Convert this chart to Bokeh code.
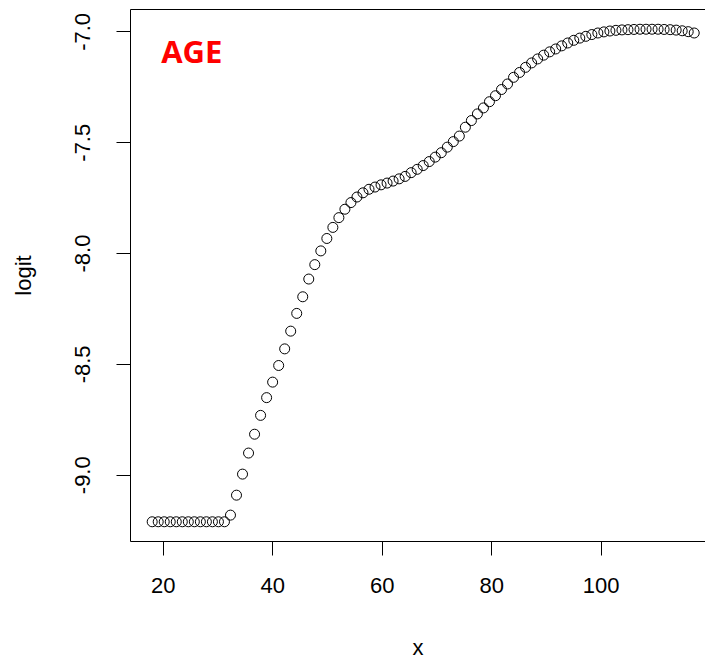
from bokeh.plotting import figure
from bokeh.models import (Range1d, FixedTicker, PrintfTickFormatter, LinearAxis,
                          Label)
from bokeh.embed import file_html
from bokeh.resources import INLINE

# ---- data ----
x_vals = [18.0, 19.1, 20.2, 21.3, 22.4, 23.5, 24.6, 25.7, 26.8, 27.9,
          29.0, 30.1, 31.2, 32.3, 33.4, 34.5, 35.6, 36.7, 37.8, 38.9,
          40.0, 41.1, 42.2, 43.3, 44.4, 45.5, 46.6, 47.7, 48.8, 49.9,
          51.0, 52.1, 53.2, 54.3, 55.4, 56.5, 57.6, 58.7, 59.8, 60.9,
          62.0, 63.1, 64.2, 65.3, 66.4, 67.5, 68.6, 69.7, 70.8, 71.9,
          73.0, 74.1, 75.2, 76.3, 77.4, 78.5, 79.6, 80.7, 81.8, 82.9,
          84.0, 85.1, 86.2, 87.3, 88.4, 89.5, 90.6, 91.7, 92.8, 93.9,
          95.0, 96.1, 97.2, 98.3, 99.4, 100.5, 101.6, 102.7, 103.8, 104.9,
          106.0, 107.1, 108.2, 109.3, 110.4, 111.5, 112.6, 113.7, 114.8, 115.9,
          117.0]
logit_vals = [-9.21, -9.21, -9.21, -9.21, -9.21, -9.21, -9.21, -9.21, -9.21, -9.21,
              -9.21, -9.21, -9.21, -9.18, -9.09, -8.995, -8.90, -8.815, -8.73, -8.65,
              -8.58, -8.505, -8.43, -8.35, -8.27, -8.195, -8.115, -8.05, -7.988, -7.932,
              -7.882, -7.838, -7.80, -7.77, -7.745, -7.726, -7.71, -7.70, -7.69, -7.682,
              -7.673, -7.663, -7.652, -7.635, -7.62, -7.603, -7.585, -7.565, -7.545, -7.52,
              -7.495, -7.47, -7.43, -7.40, -7.37, -7.343, -7.315, -7.288, -7.26, -7.235,
              -7.205, -7.183, -7.16, -7.14, -7.122, -7.105, -7.09, -7.077, -7.063, -7.05,
              -7.038, -7.028, -7.02, -7.012, -7.005, -7.0, -6.996, -6.993, -6.991, -6.99,
              -6.989, -6.988, -6.988, -6.988, -6.988, -6.989, -6.99, -6.992, -6.995, -6.999,
              -7.005]
x_ticks = [20, 40, 60, 80, 100]
y_ticks = [-9.0, -8.5, -8.0, -7.5, -7.0]
title_text = "AGE"
x_label = "x"
y_label = "logit"

FONT = "Liberation Sans"

p = figure(width=705, height=662, output_backend="svg", toolbar_location=None,
           x_range=Range1d(14.04, 119.06), y_range=Range1d(-9.299, -6.899),
           min_border_left=130, min_border_right=0, min_border_top=9,
           min_border_bottom=121)
p.outline_line_color = None
p.xgrid.visible = False
p.ygrid.visible = False
p.background_fill_color = "white"
p.border_fill_color = "white"

p.scatter(x_vals, logit_vals, marker="circle", size=10, fill_color=None,
          line_color="black", line_width=1)

for ax in (p.xaxis[0], p.yaxis[0]):
    ax.axis_line_color = "black"
    ax.axis_line_width = 1
    ax.major_tick_line_color = "black"
    ax.major_tick_out = 14
    ax.major_tick_in = 0
    ax.minor_tick_out = 0
    ax.minor_tick_in = 0
    ax.major_label_text_font = FONT
    ax.major_label_text_font_size = "22px"
    ax.major_label_text_color = "black"
    ax.axis_label_text_font = FONT
    ax.axis_label_text_font_size = "22px"
    ax.axis_label_text_font_style = "normal"
    ax.axis_label_text_color = "black"

p.xaxis.ticker = FixedTicker(ticks=x_ticks)
p.yaxis.ticker = FixedTicker(ticks=y_ticks)
p.yaxis.formatter = PrintfTickFormatter(format="%.1f")
p.yaxis.major_label_orientation = "vertical"
p.xaxis.axis_label = x_label
p.yaxis.axis_label = y_label
p.xaxis.major_label_standoff = 22
p.xaxis.axis_label_standoff = 39
p.yaxis.major_label_standoff = 26
p.yaxis.axis_label_standoff = 37

top = LinearAxis(ticker=FixedTicker(ticks=[]), major_tick_out=0, major_tick_in=0,
                 minor_tick_out=0, minor_tick_in=0, major_label_standoff=0,
                 axis_line_color="black", axis_line_width=1)
p.add_layout(top, "above")

p.add_layout(Label(x=19.65, y=-7.084, text=title_text, text_color="#FF0000",
                   text_font="Open Sans", text_font_style="bold",
                   text_font_size="31px", text_baseline="alphabetic"))

open("out.html", "w").write(file_html(p, INLINE))
